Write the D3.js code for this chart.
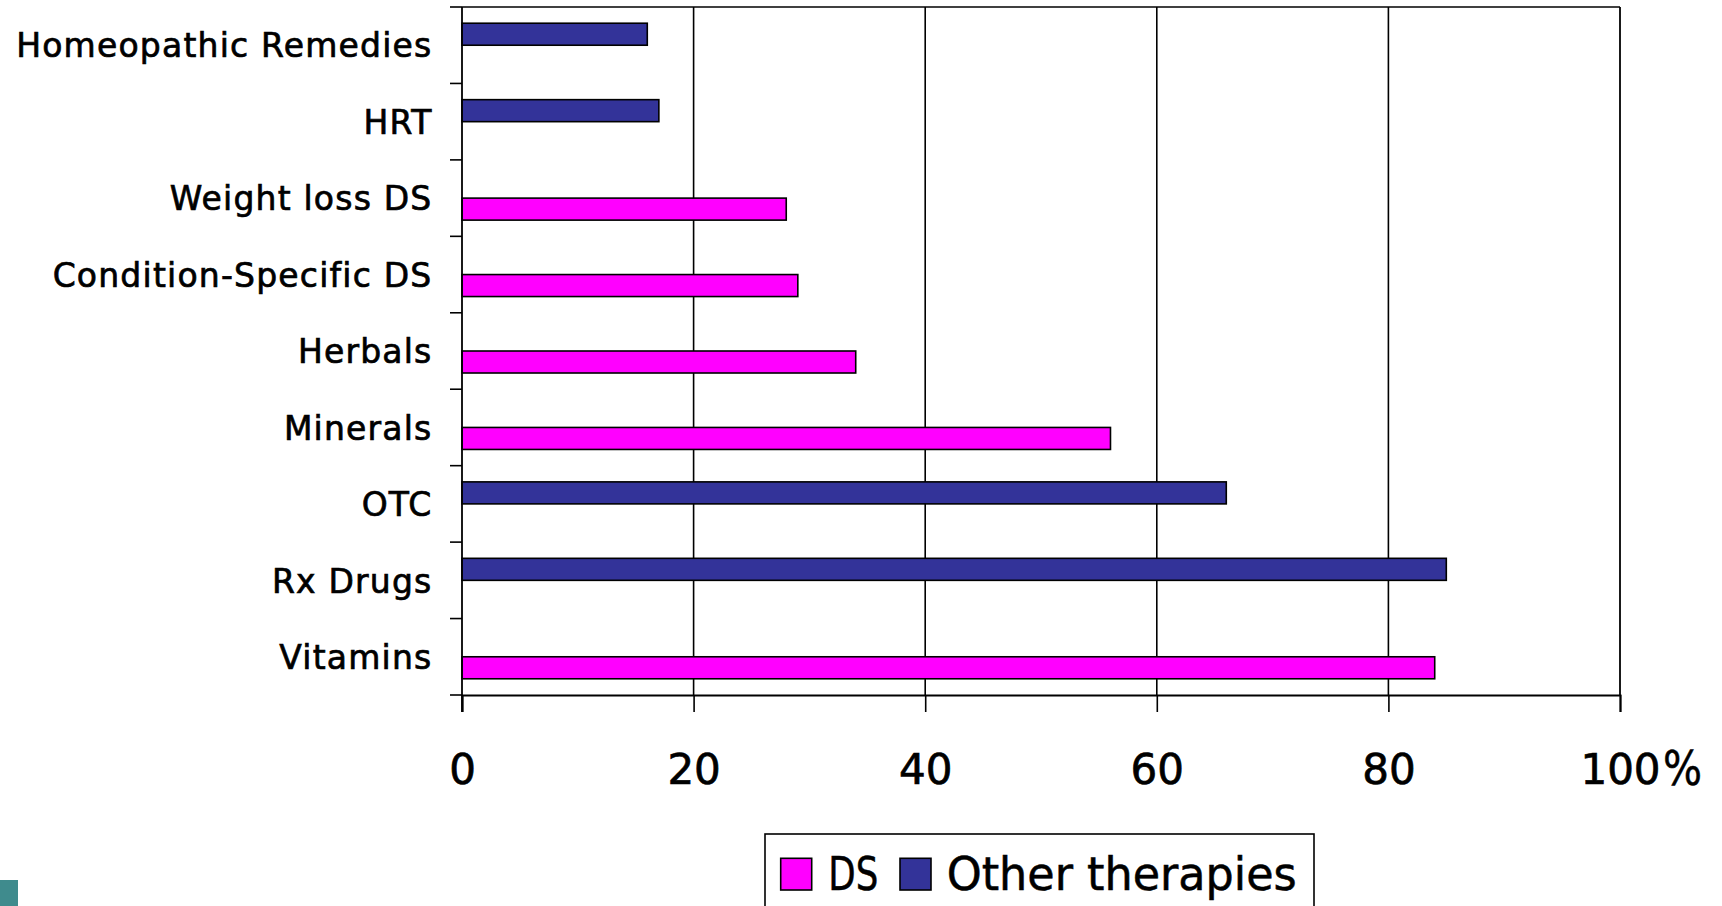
<!DOCTYPE html>
<html>
<head>
<meta charset="utf-8">
<script src="https://cdn.jsdelivr.net/npm/d3@7"></script>
<style>
  html, body { margin: 0; padding: 0; background: #fff; }
  svg { display: block; }
</style>
</head>
<body>
<svg id="chart" width="1722" height="906"></svg>
<script>
// Share of respondents using each product type (%)
const categories = [
  "Homeopathic Remedies", "HRT", "Weight loss DS", "Condition-Specific DS",
  "Herbals", "Minerals", "OTC", "Rx Drugs", "Vitamins"
];
const dsValues    = [null, null, 28, 29, 34, 56, null, null, 84];
const otherValues = [16, 17, null, null, null, null, 66, 85, null];
const seriesNames = ["DS", "Other therapies"];
const seriesColors = ["#ff00ff", "#333399"];
const xTicks = [0, 20, 40, 60, 80, 100];

const svg = d3.select("#chart");
const margin = { left: 462, top: 7, right: 102, bottom: 211 };
const W = 1722 - margin.left - margin.right;
const H = 906 - margin.top - margin.bottom;
const labelFont = "'DejaVu Sans', Verdana, sans-serif";

const g = svg.append("g").attr("transform", `translate(${margin.left},${margin.top})`);

const x = d3.scaleLinear().domain([0, 100]).range([0, W]);
const y = d3.scaleBand().domain(categories).range([0, H]).padding(0);
// Within a category: "Other therapies" slot on top, "DS" slot below
const ySub = d3.scaleBand().domain(["Other therapies", "DS"])
  .range([0, y.bandwidth()]).paddingInner(0).paddingOuter(0.737);

// Vertical gridlines
g.append("g").selectAll("line").data(xTicks.filter(t => t > 0 && t < 100)).join("line")
  .attr("x1", d => x(d)).attr("x2", d => x(d))
  .attr("y1", 0).attr("y2", H)
  .attr("stroke", "#000").attr("stroke-width", 1.6);

// Plot frame: top and right edges
g.append("line").attr("x1", 0).attr("x2", W).attr("y1", 0).attr("y2", 0)
  .attr("stroke", "#000").attr("stroke-width", 1.6);
g.append("line").attr("x1", W).attr("x2", W).attr("y1", 0).attr("y2", H)
  .attr("stroke", "#000").attr("stroke-width", 1.8);

// Bars
const rows = categories.map((c, i) => [
  { cat: c, series: "DS", value: dsValues[i], color: seriesColors[0] },
  { cat: c, series: "Other therapies", value: otherValues[i], color: seriesColors[1] }
]).flat().filter(d => d.value != null);

g.append("g").selectAll("rect").data(rows).join("rect")
  .attr("x", x(0))
  .attr("y", d => y(d.cat) + ySub(d.series))
  .attr("width", d => x(d.value) - x(0))
  .attr("height", ySub.bandwidth())
  .attr("fill", d => d.color)
  .attr("stroke", "#000").attr("stroke-width", 1.6);

// Y axis: ticks at category boundaries, labels centred in bands
const yBounds = d3.range(categories.length + 1).map(i => i * y.step());
g.append("line").attr("x1", 0).attr("x2", 0).attr("y1", 0).attr("y2", H + 17)
  .attr("stroke", "#000").attr("stroke-width", 1.8);
g.append("g").selectAll("line").data(yBounds).join("line")
  .attr("x1", -12).attr("x2", 0).attr("y1", d => d).attr("y2", d => d)
  .attr("stroke", "#000").attr("stroke-width", 1.6);
g.append("g").selectAll("text").data(categories).join("text")
  .attr("x", -29.5)
  .attr("y", d => y(d) + y.bandwidth() / 2)
  .attr("dy", "0.37em")
  .attr("text-anchor", "end")
  .attr("font-family", labelFont)
  .attr("font-size", 33)
  .attr("letter-spacing", 1.2)
  .attr("fill", "#000")
  .attr("stroke", "#000").attr("stroke-width", 0.7)
  .text(d => d);

// X axis
const xAxis = d3.axisBottom(x).tickValues(xTicks).tickSize(17).tickPadding(42)
  .tickFormat(d3.format("d"));
const xg = g.append("g").attr("transform", `translate(0,${H})`).call(xAxis);
xg.select(".domain").attr("stroke", "#000").attr("stroke-width", 2);
xg.selectAll(".tick line").attr("stroke", "#000").attr("stroke-width", 1.6);
xg.selectAll(".tick text")
  .attr("font-family", labelFont)
  .attr("font-size", 42)
  .attr("fill", "#000")
  .attr("stroke", "#000").attr("stroke-width", 0.7);
// Percent sign after the last tick label
xg.append("text")
  .attr("x", x(100) + 43).attr("y", 90)
  .attr("text-anchor", "start")
  .attr("font-family", labelFont)
  .attr("font-size", 48)
  .attr("textLength", 39).attr("lengthAdjust", "spacingAndGlyphs")
  .attr("fill", "#000")
  .attr("stroke", "#000").attr("stroke-width", 0.5)
  .text("%");

// Legend
const legend = svg.append("g").attr("transform", "translate(765,834)");
legend.append("rect").attr("x", 0).attr("y", 0).attr("width", 549).attr("height", 100)
  .attr("fill", "#fff").attr("stroke", "#000").attr("stroke-width", 1.6);
const legendItems = [
  { name: seriesNames[0], color: seriesColors[0], sx: 15.7, tx: 63.3, tw: 50 },
  { name: seriesNames[1], color: seriesColors[1], sx: 135, tx: 181.7, tw: 350 }
];
legendItems.forEach(it => {
  legend.append("rect").attr("x", it.sx).attr("y", 24.3).attr("width", 31).attr("height", 31.7)
    .attr("fill", it.color).attr("stroke", "#000").attr("stroke-width", 1.6);
  legend.append("text").attr("x", it.tx).attr("y", 56)
    .attr("font-family", "'DejaVu Sans Condensed', 'DejaVu Sans', sans-serif")
    .attr("font-stretch", "condensed")
    .attr("font-size", 46)
    .attr("textLength", it.tw).attr("lengthAdjust", "spacingAndGlyphs")
    .attr("fill", "#000")
    .attr("stroke", "#000").attr("stroke-width", 0.5)
    .text(it.name);
});

// Corner logo fragment
svg.append("rect").attr("x", 0).attr("y", 880).attr("width", 18).attr("height", 26)
  .attr("fill", "#3f8b8d");
</script>
</body>
</html>
